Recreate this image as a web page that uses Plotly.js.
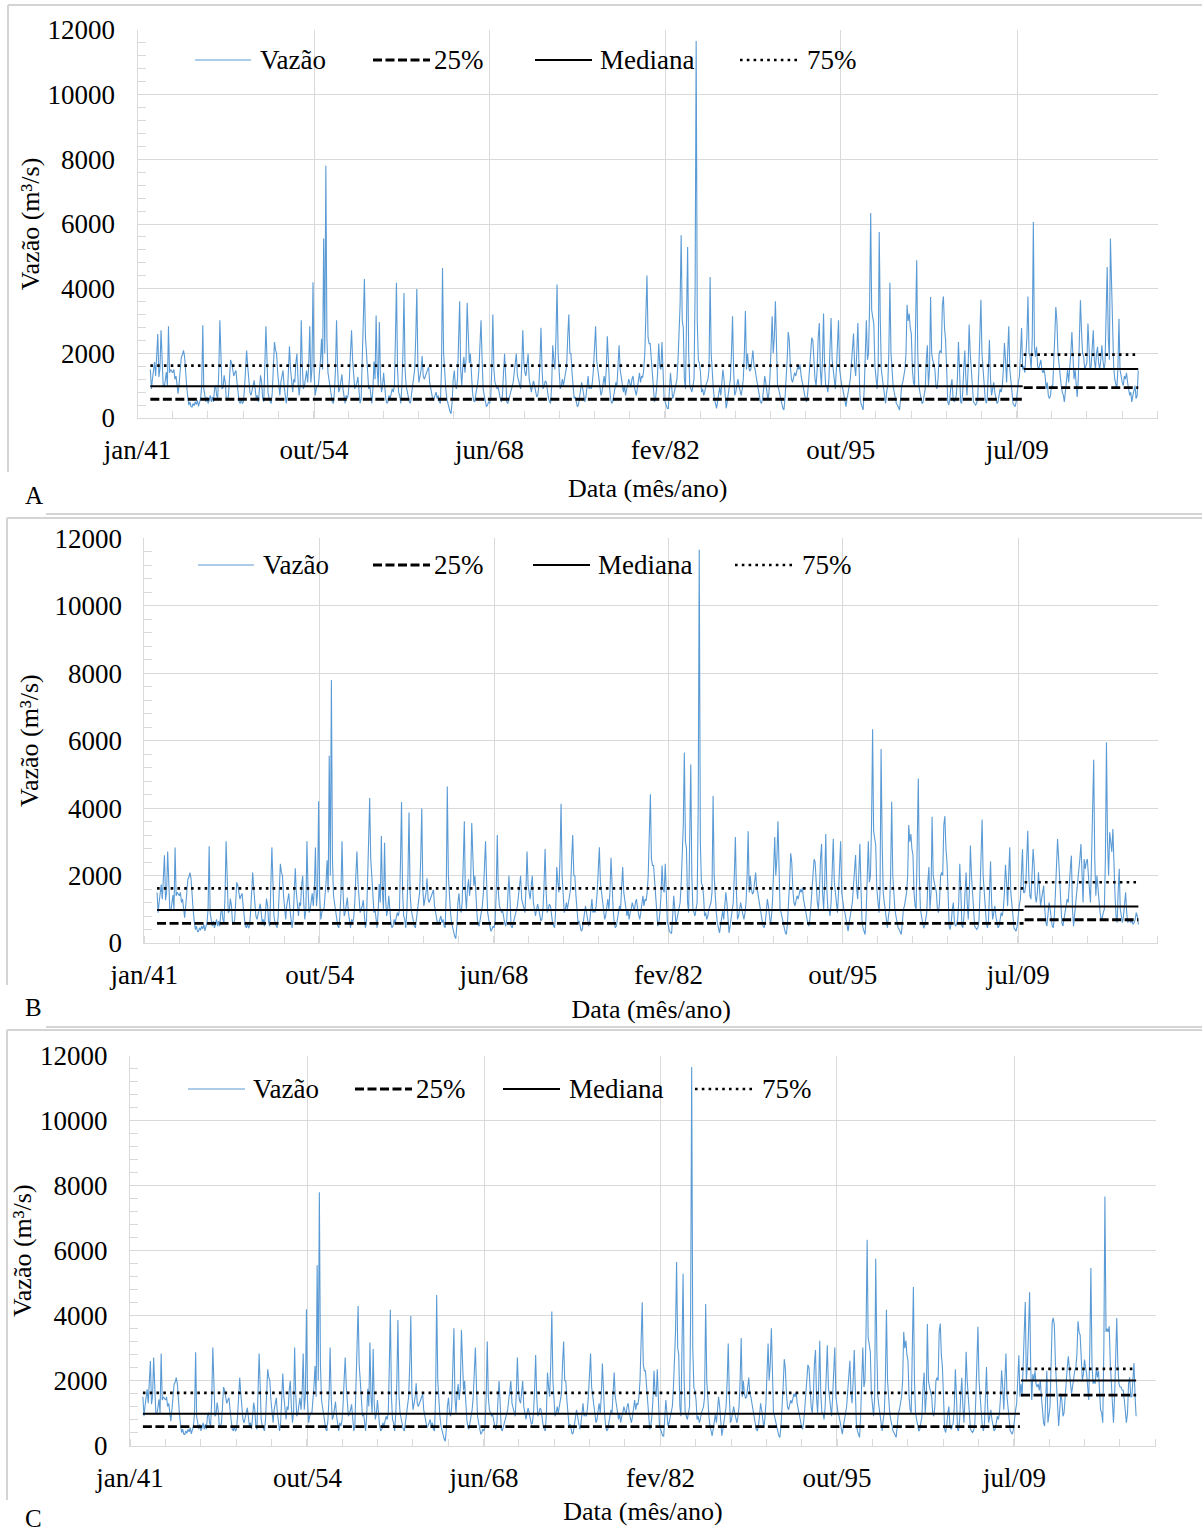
<!DOCTYPE html>
<html><head><meta charset="utf-8">
<script src="https://cdn.plot.ly/plotly-3.0.1.min.js"></script>
<style>html,body{margin:0;padding:0;background:#fff}#chart{width:1202px;height:1535px}</style>
</head><body><div id="chart"></div>
<script>
const FONT = '"Liberation Serif", "Times New Roman", serif';
const startYear = 1942; // record starts Jan/1942 (monthly)

// Observed monthly flow (m3/s), Jan/1942 - Dec/2009, shared by the three panels
const flowShared = [
1500,900,1200,1500,1730,1300,2000,2600,1270,1500,2710,1800,
1000,950,1300,1420,1000,2835,1400,1500,1450,1400,1500,1200,
1300,900,750,1100,1500,1890,1950,2090,1900,1300,960,650,
400,500,350,340,450,380,500,420,550,360,450,600,
1000,2870,900,700,500,650,450,550,700,500,650,500,
900,1010,700,600,1400,3020,1800,900,950,1320,1100,600,
550,700,1200,1800,1700,1500,1300,1400,1470,1100,700,500,
450,600,440,500,900,1500,2090,1600,1000,800,700,900,
1000,1165,800,600,700,500,900,1320,1100,600,500,1400,
2835,1800,800,600,500,450,800,1600,2350,2100,1990,1400,
900,700,1100,1300,1470,1000,600,450,700,1500,2215,1500,
1000,800,1200,1100,1700,1990,1200,700,1000,3020,1600,900,
1000,1200,1470,1100,1600,2835,1100,1500,4200,1400,700,900,
1000,1000,1300,1800,2450,1500,5550,2000,7800,2500,1400,1200,
1000,700,500,450,800,1500,3020,1500,800,900,1200,1350,
900,600,450,700,600,750,1200,2000,2710,1800,1300,900,
1000,1100,1270,900,450,600,1500,3000,4300,2500,1990,1200,
900,1000,600,450,900,1750,1200,3170,1500,1000,2970,1300,
800,1000,1400,900,600,450,500,700,600,750,900,800,
1000,2500,4180,1500,800,700,450,960,2000,3866,1500,1000,
800,600,500,450,700,1000,1100,1500,2500,3990,1600,1100,
1300,1500,1920,1300,1200,1300,1400,1500,1580,1100,900,700,
550,600,700,800,600,700,500,450,1500,4640,2000,1300,
900,600,450,300,200,130,500,1200,1470,1000,900,1200,
2500,3610,1500,1000,1600,1890,1400,1800,3560,2300,1700,1990,
1200,800,550,500,700,900,1100,1500,2500,3020,1800,900,
700,500,350,400,500,450,600,1500,3200,1500,1100,1000,
900,950,700,600,500,700,1400,1990,1300,500,450,600,
750,900,1000,1100,1400,1800,1990,1300,1150,1000,900,1600,
2710,1700,1400,1300,1700,1990,1200,950,800,1000,1150,1000,
800,650,700,1000,1700,2790,1500,900,1000,1150,1100,800,
600,500,450,1000,2250,1800,1500,2500,4130,2000,1200,900,
1000,1200,1000,1200,1500,1600,2500,3200,2000,1990,1400,800,
600,650,500,350,400,600,900,1100,900,700,500,650,
1000,1300,900,1000,900,1100,1500,2000,2835,1800,1500,1300,
1000,700,800,1100,1300,1000,1500,2525,1600,1000,600,450,
500,700,900,1100,1000,1600,2250,1500,1200,900,800,1000,
700,900,1000,1200,1100,950,1200,1300,1000,850,700,900,
1200,1400,1100,1300,1250,1500,2000,3000,4410,2500,2300,2300,
1800,1200,800,500,600,900,1400,2300,1600,1500,2350,1200,
600,500,350,300,290,800,1400,1000,600,700,900,1100,
1200,1800,2610,3500,5650,3020,2800,1200,900,3000,5290,2000,
1000,900,800,1000,1200,4000,11660,3000,1780,1700,1400,800,
900,700,800,1000,1100,1200,1500,4360,1990,1300,900,600,
400,300,500,700,950,700,1200,1500,1200,600,300,500,
700,1000,1200,2000,3145,1500,700,800,1000,1200,1000,800,
700,900,1200,2000,3310,1500,1990,1600,1450,1500,1800,2090,
1600,1500,1300,1000,900,700,500,450,600,900,1300,1100,
700,550,800,1300,2200,3145,2000,2500,3610,2000,1000,900,
700,500,450,300,250,600,1100,1800,2660,2400,1600,1200,
1100,1300,1400,1300,1500,1600,1500,1650,1300,1100,950,800,
600,500,700,1100,1600,2300,2485,2400,1500,1200,1000,1500,
2500,2940,1500,1000,1800,3230,1600,1000,1000,800,1200,2000,
3090,1800,1500,1000,900,1500,2500,3020,1500,1200,1000,900,
700,500,350,600,900,1000,1200,1800,2300,2610,1600,1300,
2000,2940,1800,700,450,300,250,900,2500,3020,1800,2000,
3500,6340,3330,3100,2900,1600,1100,900,1500,5750,3000,1500,
1200,900,600,450,800,1000,2000,4185,2000,1400,1000,800,
600,450,400,300,250,600,1000,1100,1300,1500,2000,3500,
3000,3230,2800,2610,1500,1100,1000,2500,4880,2000,1000,800,
600,440,500,700,900,1800,2250,1000,1500,3740,2000,1800,
1600,1500,1000,900,1200,2000,2090,2000,3500,3760,2800,2400,
1500,500,400,600,1000,1200,600,500,550,700,1200,2350,
1500,500,450,800,1500,2090,1200,700,1500,2890,2000,1400,
900,500,450,400,450,600,1400,2500,3660,2000,1400,900,
600,450,600,1500,2420,1200,700,900,1100,800,550,450,
500,700,900,800,1000,1500,2320,1800,1100,2000,2835,1500,
1000,800,450,400,350,500,900,1100,1300,2000,2780,1500
];

// Jan/2010 - Dec/2018, different for each panel
const tailA = [
1600,1400,1800,2500,3760,2000,1900,1500,2500,6060,2200,1900,
2200,1600,1500,1700,1800,1500,1400,1500,1300,900,1100,700,
600,700,1000,900,1500,2500,3430,3000,2000,1600,1200,1000,
800,700,500,900,1200,1500,1100,1500,2000,2660,1800,1200,
1500,1000,650,1200,2500,3640,2710,2000,1900,1500,1600,1700,
2920,1800,1500,1600,2300,2710,1800,1500,2000,2200,1700,1500,
1800,2250,1800,1500,1700,3000,4670,2500,1800,5550,3950,2500,
1600,1200,1000,900,1500,3070,1500,1200,1100,1000,1300,1200,
1400,1100,900,700,800,500,700,900,1000,600,700,1470
];
const tailB = [
1500,1700,2500,3330,2000,1400,1300,2000,2790,2300,1400,1200,
1500,2100,1500,1100,1300,1500,1700,1000,600,500,900,1200,
1000,700,500,450,800,1500,2700,3085,2500,1700,1000,600,
500,700,900,1100,1300,1200,1800,2200,2590,1000,500,800,
1300,1500,1700,2000,2500,2935,1800,1200,2490,2200,2400,2490,
2000,1400,1200,2500,4000,5430,2500,1400,2000,1600,1200,900,
700,750,900,1000,2500,5950,3000,2000,3280,3000,2700,3380,
2000,1400,800,600,1500,2200,1000,700,600,800,1300,1500,
900,600,700,650,600,700,550,600,700,900,800,550
];
const tailC = [
1900,1500,2500,3800,4420,2000,2500,3500,4720,2500,1400,2200,
2000,2300,1900,1800,1900,1700,2000,1500,1100,700,600,1500,
2300,700,900,1200,2500,3800,3930,3700,2500,1900,1200,600,
1100,1600,1400,900,1000,1600,2000,2400,2750,2200,1900,1600,
1900,2000,2300,2400,2800,3830,3500,3400,2400,2000,2200,2650,
2400,2200,1800,1400,3000,5470,2500,1900,2000,1900,2400,2100,
2300,1700,1100,1000,700,3000,7670,3500,3600,3500,3670,2500,
1800,1200,700,1500,3000,3930,2500,1900,1800,1800,1700,1700,
1400,1000,700,1000,1900,2100,1500,1500,2000,2540,1500,900
];

const panelLabels = ['A', 'B', 'C'];
// quartiles per panel: [period 1942-2009, period 2010-2018]
const q25 = [[580, 940], [580, 690], [580, 1550]];
const q50 = [[980, 1516], [980, 1080], [980, 2000]];
const q75 = [[1620, 1960], [1620, 1800], [1620, 2360]];
const seriesNames = ['Vazão', '25%', 'Mediana', '75%'];
const tickVals = ['1941-01-01', '1954-10-01', '1968-06-01', '1982-02-01', '1995-10-01', '2009-07-01'];
const tickText = ['jan/41', 'out/54', 'jun/68', 'fev/82', 'out/95', 'jul/09'];
const yTitle = 'Vazão (m³/s)';
const xTitle = 'Data (mês/ano)';

// ---------- layout helpers ----------
const W = 1202, H = 1535;
const PX = v => v / W, PY = v => 1 - v / H;
const boxes = [
  {x0: 137.5, x1: 1158, y0: 30, y1: 418, yStand: 0, xStand: 14, legY: 60, leg: [[195, 251, 258], [373, 430, 432], [535, 592, 598], [740, 797, 805]], lab: [34, 496], frame: {top: 5, left: 8, leftEnd: 472, bottom: 514}},
  {x0: 144.3, x1: 1158, y0: 538.3, y1: 943, yStand: 8, xStand: 10, legY: 565, leg: [[198, 254, 261], [373, 430, 432], [533, 590, 596], [735, 792, 800]], lab: [33, 1007], frame: {top: 518, left: 7, leftEnd: 985, bottom: 1027}},
  {x0: 130, x1: 1156, y0: 1056, y1: 1445.5, yStand: 0, xStand: 9, legY: 1089, leg: [[188, 245, 251], [355, 412, 414], [503, 560, 567], [695, 752, 760]], lab: [33, 1518], frame: {top: 1030, left: 7, leftEnd: 1500, bottom: null}}
];
const blue = '#5B9BD5', grid = '#d9d9d9';
const lineStyles = [
  {color: blue, width: 1.1},
  {color: '#000', width: 2.8, dash: '9px,3.5px'},
  {color: '#000', width: 2},
  {color: '#000', width: 2.6, dash: '2.6px,4.2px'}
];

function monthDates(n) {
  const out = [];
  for (let k = 0; k < n; k++) {
    const y = startYear + Math.floor(k / 12), m = (k % 12) + 1;
    out.push(y + '-' + String(m).padStart(2, '0') + '-01');
  }
  return out;
}
const tails = [tailA, tailB, tailC];
const nP1 = flowShared.length;
const allDates = monthDates(nP1 + tailA.length);
const p1s = allDates[0], p1e = allDates[nP1 - 1], p2s = allDates[nP1], p2e = allDates[allDates.length - 1];

const traces = [];
const layout = {
  width: W, height: H, margin: {l: 0, r: 0, t: 0, b: 0},
  paper_bgcolor: '#fff', plot_bgcolor: '#fff', showlegend: false,
  font: {family: FONT, color: '#000', size: 26},
  shapes: [], annotations: []
};

boxes.forEach((b, p) => {
  const sfx = p === 0 ? '' : String(p + 1);
  const xr = 'x' + sfx, yr = 'y' + sfx;
  traces.push({type: 'scatter', mode: 'lines', name: seriesNames[0], x: allDates,
    y: flowShared.concat(tails[p]), xaxis: xr, yaxis: yr, line: lineStyles[0], hoverinfo: 'x+y'});
  [q25, q50, q75].forEach((q, k) => {
    traces.push({type: 'scatter', mode: 'lines', name: seriesNames[k + 1],
      x: [p1s, p1e, p1e, p2s, p2e], y: [q[p][0], q[p][0], null, q[p][1], q[p][1]],
      xaxis: xr, yaxis: yr, line: lineStyles[k + 1], connectgaps: false});
  });
  layout['xaxis' + sfx] = {
    domain: [PX(b.x0), PX(b.x1)], anchor: yr, type: 'date',
    range: ['1941-01-01', '2020-06-15'],
    tickmode: 'array', tickvals: tickVals, ticktext: tickText,
    showgrid: true, gridcolor: grid, gridwidth: 1, zeroline: false,
    showline: true, linecolor: grid, linewidth: 1, ticks: '',
    tickfont: {family: FONT, size: 27, color: '#000'}, ticklabelstandoff: 8,
    minor: {tickmode: 'linear', tick0: '1941-01-01', dtick: 1000 * 86400000, ticks: 'inside', ticklen: 7, tickcolor: grid, tickwidth: 1, showgrid: false},
    title: {text: xTitle, font: {family: FONT, size: 26, color: '#000'}, standoff: b.xStand},
    fixedrange: true
  };
  layout['yaxis' + sfx] = {
    domain: [PY(b.y1), PY(b.y0)], anchor: xr, range: [0, 12000],
    tickmode: 'linear', tick0: 0, dtick: 2000, tickformat: 'd',
    showgrid: true, gridcolor: grid, gridwidth: 1, zeroline: false,
    showline: true, linecolor: grid, linewidth: 1, ticks: '',
    tickfont: {family: FONT, size: 27, color: '#000'}, ticklabelstandoff: 16,
    minor: {tickmode: 'linear', tick0: 0, dtick: 400, ticks: 'inside', ticklen: 8, tickcolor: grid, tickwidth: 1, showgrid: false},
    title: {text: yTitle, font: {family: FONT, size: 26, color: '#000'}, standoff: b.yStand},
    fixedrange: true
  };
  // legend drawn inside the plot area
  b.leg.forEach((e, k) => {
    layout.shapes.push({type: 'line', xref: 'paper', yref: 'paper', x0: PX(e[0]), x1: PX(e[1]),
      y0: PY(b.legY), y1: PY(b.legY), line: lineStyles[k]});
    layout.annotations.push({xref: 'paper', yref: 'paper', x: PX(e[2]), y: PY(b.legY), xanchor: 'left', yanchor: 'middle',
      showarrow: false, text: seriesNames[k], font: {family: FONT, size: 27, color: '#000'}});
  });
  // panel letter
  layout.annotations.push({xref: 'paper', yref: 'paper', x: PX(b.lab[0]), y: PY(b.lab[1]), xanchor: 'center', yanchor: 'middle',
    showarrow: false, text: panelLabels[p], font: {family: FONT, size: 25, color: '#000'}});
  // panel frame
  const f = b.frame, fl = {color: '#d4d4d4', width: 2};
  layout.shapes.push({type: 'line', xref: 'paper', yref: 'paper', x0: PX(f.left), x1: PX(W), y0: PY(f.top), y1: PY(f.top), line: fl});
  layout.shapes.push({type: 'line', xref: 'paper', yref: 'paper', x0: PX(f.left), x1: PX(f.left), y0: PY(f.top), y1: PY(f.leftEnd), line: fl});
  if (f.bottom) layout.shapes.push({type: 'line', xref: 'paper', yref: 'paper', x0: PX(46), x1: PX(W), y0: PY(f.bottom), y1: PY(f.bottom), line: fl});
});

Plotly.newPlot('chart', traces, layout, {displayModeBar: false, staticPlot: true});
</script>
</body></html>
